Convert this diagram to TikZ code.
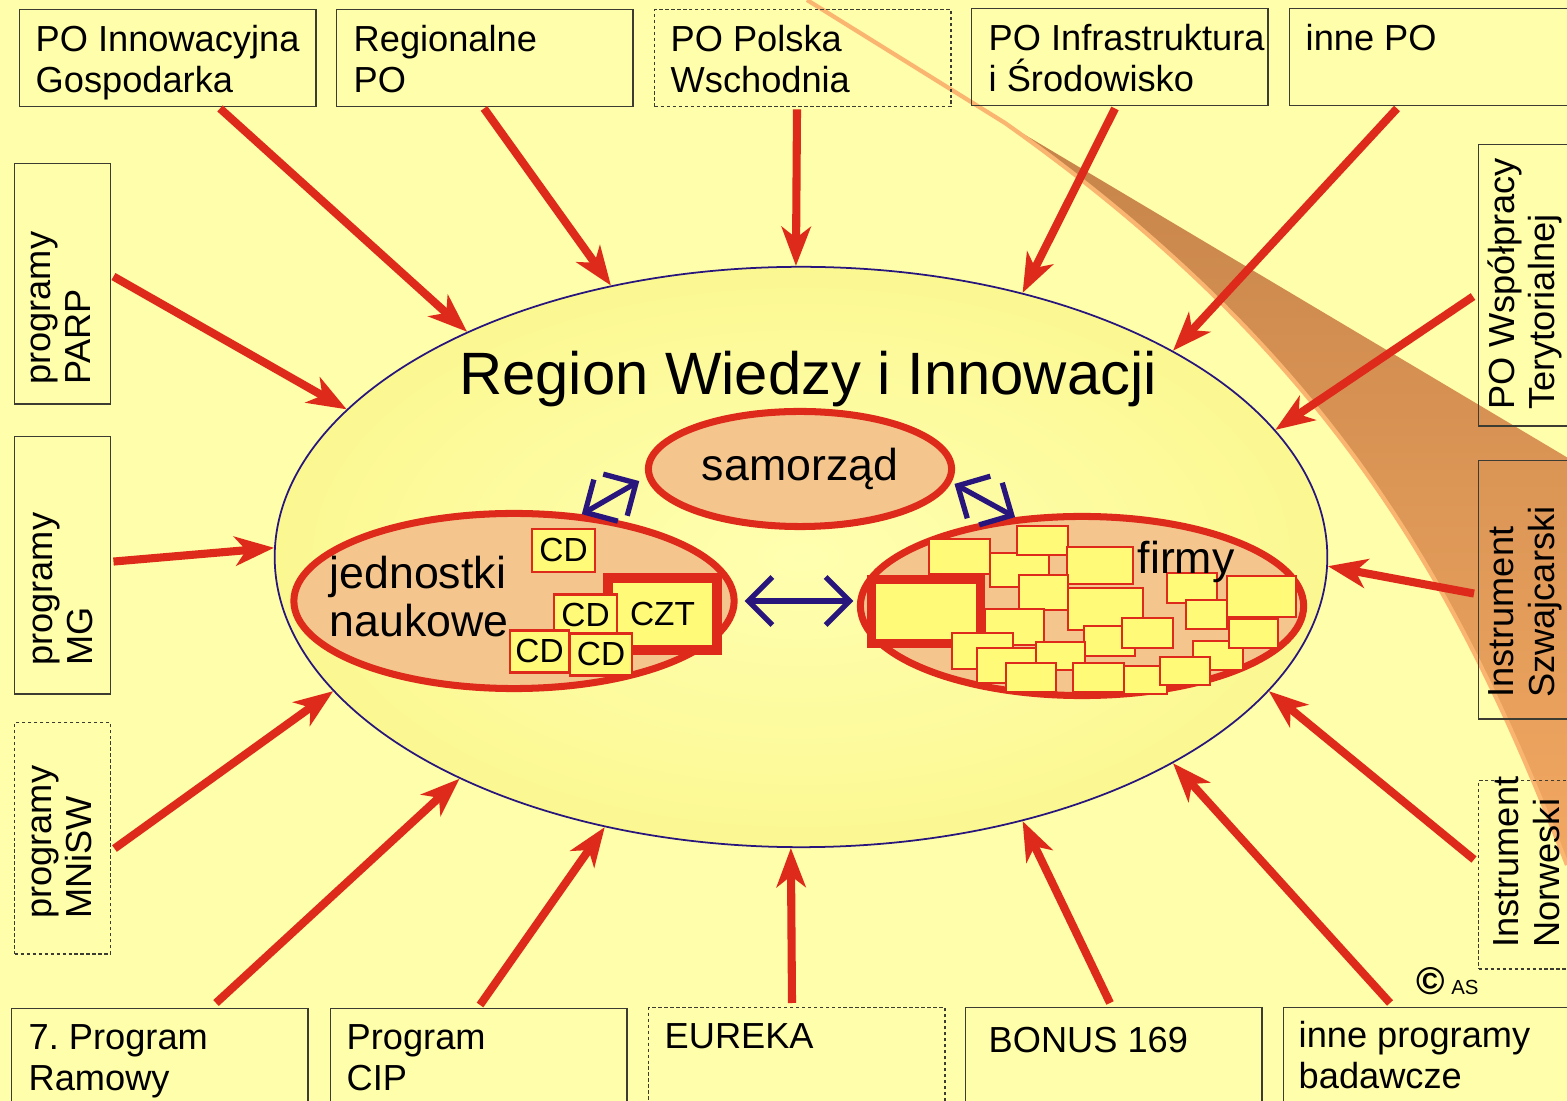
\documentclass[tikz,border=0pt]{standalone}
\usepackage{fontspec}
\setmainfont{Liberation Sans}
\usetikzlibrary{arrows.meta,shapes.geometric,calc}
\definecolor{bgyel}{RGB}{255,254,170}
\definecolor{rwin}{RGB}{255,255,176}
\definecolor{rwyel}{RGB}{251,248,146}
\definecolor{arred}{RGB}{222,42,26}
\definecolor{peach}{RGB}{244,198,142}
\definecolor{boxyel}{RGB}{255,250,120}
\definecolor{navy}{RGB}{40,22,125}
\definecolor{frame}{RGB}{60,60,50}
\definecolor{bandtop}{RGB}{198,132,74}
\definecolor{bandbot}{RGB}{247,172,100}
\definecolor{bandedge}{RGB}{250,182,112}
\frenchspacing

\begin{document}
\begin{tikzpicture}[x=0.01cm, y=-0.01cm,
    font=\fontsize{10.3}{11.5}\selectfont,
    prog/.style={draw=frame, line width=0.4pt, anchor=north west, inner sep=0pt},
    topbox/.style={prog, minimum width=2.96cm, minimum height=0.97cm},
    sidebox/.style={prog, minimum width=0.96cm},
    botbox/.style={prog, minimum width=2.96cm, minimum height=1.2cm},
    dsh/.style={dash pattern=on 1pt off 0.7pt},
    lbl/.style={anchor=north west, align=left, inner sep=0pt},
    vlbl/.style={lbl, rotate=90},
    arr/.style={draw=arred, line width=2.3pt, -{Stealth[length=3.9mm, width=2.9mm, inset=1.1mm]}},
    blob/.style={ellipse, draw=arred, fill=peach, line width=2pt, inner sep=0pt},
    cd/.style={draw=arred, fill=boxyel, line width=0.8pt, inner sep=0pt,
               minimum height=0.42cm, font=\fontsize{9.5}{9.5}\selectfont},
    fbox/.style={draw=arred, fill=boxyel, line width=0.7pt},
    dbl/.style={draw=navy, line width=1.5pt,
                {Straight Barb[length=2.4mm, width=4.8mm]}-{Straight Barb[length=2.4mm, width=4.8mm]}},
  ]
  \useasboundingbox (0,0) rectangle (1567,1101);
  \clip (0,0) rectangle (1567,1101);
  \fill[bgyel] (0,0) rectangle (1567,1101);

  % orange band on the right
  \shade[top color=bandtop, bottom color=bandbot] (1005,123) -- (1600,477) -- (1600,951) -- (1567,865)
    .. controls (1459,586) and (1333,355) .. (1005,123) -- cycle;
  \draw[bandedge, line width=1.2pt] (807,0) -- (1005,123) .. controls (1333,355) and (1459,586) .. (1567,865);

  % the region
  \node[ellipse, draw=navy, line width=0.5pt, inner color=rwin, outer color=rwyel,
        minimum width=10.52cm, minimum height=5.80cm, inner sep=0pt] (rwi) at (801,557) {};
  \node[anchor=base, font=\fontsize{17}{17}\selectfont] (title) at (808,395) {Region Wiedzy i Innowacji};

  % top row of programmes
  \node[topbox] (poig) at (19,9) {};
  \node[topbox] (rpo) at (336,9) {};
  \node[topbox, dsh] (popw) at (654,9) {};
  \node[topbox] (pois) at (971,8) {};
  \node[topbox, minimum width=3.2cm] (innepo) at (1289,8) {};
  \node[lbl] at ([shift={(16,16)}]poig.north west) {PO Innowacyjna\\Gospodarka};
  \node[lbl] at ([shift={(17,16)}]rpo.north west) {Regionalne\\PO};
  \node[lbl] at ([shift={(16,16)}]popw.north west) {PO Polska\\Wschodnia};
  \node[lbl] at ([shift={(17,16)}]pois.north west) {PO Infrastruktura\\i Środowisko};
  \node[lbl] at ([shift={(16,16)}]innepo.north west) {inne PO};

  % left column
  \node[sidebox, minimum height=2.40cm] (parp) at (14,163) {};
  \node[sidebox, minimum height=2.57cm] (mg) at (14,436) {};
  \node[sidebox, dsh, minimum height=2.31cm] (mnisw) at (14,722) {};
  \node[vlbl] at ([shift={(16,-19)}]parp.south west) {programy\\PARP};
  \node[vlbl] at ([shift={(18,-28)}]mg.south west) {programy\\MG};
  \node[vlbl] at ([shift={(17,-35)}]mnisw.south west) {programy\\MNiSW};

  % right column
  \node[sidebox, minimum width=1.2cm, minimum height=2.81cm] (powt) at (1478,144) {};
  \node[sidebox, minimum width=1.2cm, minimum height=2.58cm] (szw) at (1478,460) {};
  \node[sidebox, dsh, minimum width=1.2cm, minimum height=1.88cm] (norw) at (1478,780) {};
  \node[vlbl] at ([shift={(9,-16)}]powt.south west) {PO Współpracy\\Terytorialnej};
  \node[vlbl] at ([shift={(10,-21)}]szw.south west) {Instrument\\Szwajcarski};
  \node[vlbl] at ([shift={(15,-21)}]norw.south west) {Instrument\\Norweski};

  % bottom row
  \node[botbox] (fp7) at (11,1008) {};
  \node[botbox] (cip) at (330,1008) {};
  \node[botbox, dsh] (eur) at (648,1007) {};
  \node[botbox] (bonus) at (965,1007) {};
  \node[botbox, minimum width=3.2cm] (inneb) at (1283,1007) {};
  \node[lbl] at ([shift={(17,16)}]fp7.north west) {7. Program\\Ramowy};
  \node[lbl] at ([shift={(16,16)}]cip.north west) {Program\\CIP};
  \node[lbl] at ([shift={(16,16)}]eur.north west) {EUREKA};
  \node[lbl] at ([shift={(23,20)}]bonus.north west) {BONUS 169};
  \node[lbl] at ([shift={(15,14)}]inneb.north west) {inne programy\\badawcze};

  % funding streams into the region
  \draw[arr] ([shift={(201,1)}]poig.south west) -- (rwi.146.8);
  \draw[arr] ([shift={(148,1)}]rpo.south west) -- (rwi.125.6);
  \draw[arr] ([shift={(143,2)}]popw.south west) -- (rwi.91.2);
  \draw[arr] ([shift={(144,2)}]pois.south west) -- (rwi.50.7);
  \draw[arr] ([shift={(108,2)}]innepo.south west) -- (rwi.29.25);
  \draw[arr] ([shift={(-5,-130)}]powt.south west) -- (rwi.15.4);
  \draw[arr] ([shift={(-4,-126)}]szw.south west) -- (rwi.-1.6);
  \draw[arr] ([shift={(-4,-110)}]norw.south west) -- (rwi.-16.8);
  \draw[arr] ([shift={(107,-4)}]inneb.north west) -- (rwi.-29.8);
  \draw[arr] ([shift={(145,-4)}]bonus.north west) -- (rwi.-50.9);
  \draw[arr] ([shift={(144,-4)}]eur.north west) -- (rwi.-92.2);
  \draw[arr] ([shift={(150,-3)}]cip.north west) -- (rwi.-126.55);
  \draw[arr] ([shift={(205,-5)}]fp7.north west) -- (rwi.-147.5);
  \draw[arr] ([shift={(3,-106)}]mnisw.south east) -- (rwi.-164.2);
  \draw[arr] ([shift={(2,-133)}]mg.south east) -- (rwi.179);
  \draw[arr] ([shift={(2,-128)}]parp.south east) -- (rwi.162.4);

  % actors inside the region
  \node[blob, minimum width=3.03cm, minimum height=1.15cm, font=\fontsize{12.7}{12.7}\selectfont] (sam) at (800,469) {samorząd};
  \node[blob, minimum width=4.40cm, minimum height=1.75cm] (jn) at (514,601) {};
  \node[blob, minimum width=4.43cm, minimum height=1.79cm] (fi) at (1082,606) {};

  % research units with their centres
  \node[cd, minimum width=0.63cm, minimum height=0.43cm] (cd1) at (563.5,550.5) {CD};
  \node[cd, line width=2.85pt, minimum width=1.09cm, minimum height=0.72cm] (czt) at (662.5,614) {CZT};
  \node[cd, minimum width=0.63cm] (cd2) at (585.5,615.5) {CD};
  \node[cd, minimum width=0.59cm] (cd3) at (539.5,651.5) {CD};
  \node[cd, minimum width=0.62cm] (cd4) at (601,654.5) {CD};
  \node[lbl, font=\fontsize{12.7}{13.7}\selectfont] (jntxt) at (329,555) {jednostki\\naukowe};

  % companies
  \foreach \xa/\ya/\xb/\yb in {929/539/990/574, 990/553/1049/587, 1017/526/1068/555,
      1067/547/1133/584, 1019/575/1068/610, 1068/588/1143/630, 1084/626/1135/656,
      1122/618/1173/648}
    \draw[fbox] (\xa,\ya) rectangle (\xb,\yb);
  \draw[fbox, line width=2.6pt] (871.5,579.5) rectangle (980.5,643.5);
  \foreach \xa/\ya/\xb/\yb in {985/609/1044/645, 952/633/1013/669, 977/648/1036/683,
      1036/642/1085/670, 1006/663/1056/692, 1073/663/1124/692, 1124/666/1167/694,
      1193/641/1243/670, 1160/657/1210/685, 1167/573/1217/603, 1186/600/1227/629,
      1227/576/1296/617, 1229/619/1278/648}
    \draw[fbox] (\xa,\ya) rectangle (\xb,\yb);
  \node[anchor=base west, inner sep=0pt, font=\fontsize{12.7}{12.7}\selectfont] (fitxt) at (1137,574) {firmy};

  % links between the actors
  \draw[dbl, shorten <=2pt, shorten >=1pt] (jn.east) -- (jn.east -| fi.west);
  \draw[dbl, shorten >=2.3pt] (jn.52) -- (sam.183);
  \draw[dbl, shorten <=1pt] (sam.-5) -- (fi.127);

  \node[anchor=base west, inner sep=0pt] (copy) at (1416,994)
    {{\fontsize{11}{11}\selectfont\bfseries ©}\,{\fontsize{5.8}{5.8}\selectfont AS}};
\end{tikzpicture}
\end{document}
